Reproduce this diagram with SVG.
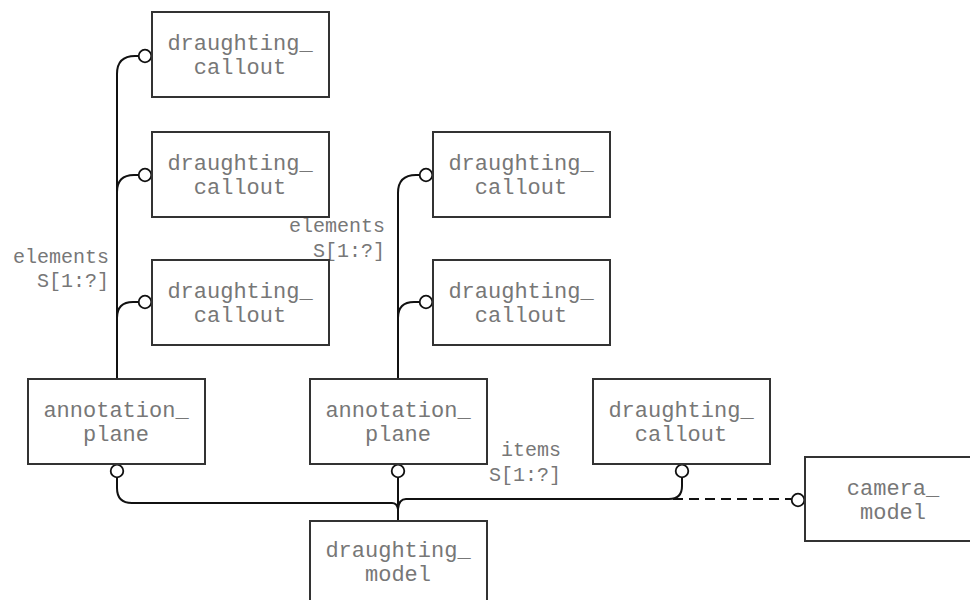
<svg xmlns="http://www.w3.org/2000/svg" width="970" height="600" viewBox="0 0 970 600">
<style>
.box{fill:#fff;stroke:#333;stroke-width:2}
.t{font-family:"Liberation Mono","Courier New",monospace;font-size:22px;fill:#777;text-anchor:middle}
.lbl{font-family:"Liberation Mono","Courier New",monospace;font-size:20px;fill:#777;text-anchor:end}
.ln{fill:none;stroke:#111;stroke-width:2}
.dash{fill:none;stroke:#111;stroke-width:2;stroke-dasharray:10,6}
.c{fill:#fff;stroke:#111;stroke-width:1.8}
</style>
<rect width="970" height="600" fill="#fff"/>
<g id="connectors">
<path class="ln" d="M117,379 V74 Q117,56 135,56 H139"/>
<path class="ln" d="M117,192 Q117,175 134,175 H139"/>
<path class="ln" d="M117,318 Q117,302 133,302 H139"/>
<path class="ln" d="M398,379 V193 Q398,175 416,175 H420"/>
<path class="ln" d="M398,318 Q398,302 414,302 H420"/>
<path class="ln" d="M117,477 V488 Q117,503 132,503 H392 Q397,503 398,509"/>
<path class="ln" d="M398,477 V521"/>
<path class="ln" d="M682,477 V486 Q682,499 669,499 H406 Q399,499 398,509"/>
<path class="dash" d="M673,499 H792"/>
<circle class="c" cx="145" cy="56" r="6.3"/>
<circle class="c" cx="145" cy="175" r="6.3"/>
<circle class="c" cx="145" cy="302" r="6.3"/>
<circle class="c" cx="426" cy="175" r="6.3"/>
<circle class="c" cx="426" cy="302" r="6.3"/>
<circle class="c" cx="117" cy="471" r="6.3"/>
<circle class="c" cx="398" cy="471" r="6.3"/>
<circle class="c" cx="682" cy="471" r="6.3"/>
<circle class="c" cx="798" cy="500" r="6.3"/>
</g>
<g id="labels">
<text class="lbl" x="109" y="263">elements</text>
<text class="lbl" x="109" y="287">S[1:?]</text>
<text class="lbl" x="385" y="232">elements</text>
<text class="lbl" x="385" y="257">S[1:?]</text>
<text class="lbl" x="561" y="456">items</text>
<text class="lbl" x="561" y="481">S[1:?]</text>
</g>
<g id="dc1"><rect class="box" x="152" y="12" width="177" height="85"/><text class="t" x="240" y="50">draughting_</text><text class="t" x="240" y="74">callout</text></g>
<g id="dc2"><rect class="box" x="152" y="132" width="177" height="85"/><text class="t" x="240" y="170">draughting_</text><text class="t" x="240" y="194">callout</text></g>
<g id="dc3"><rect class="box" x="152" y="260" width="177" height="85"/><text class="t" x="240" y="298">draughting_</text><text class="t" x="240" y="322">callout</text></g>
<g id="dc4"><rect class="box" x="433" y="132" width="177" height="85"/><text class="t" x="521" y="170">draughting_</text><text class="t" x="521" y="194">callout</text></g>
<g id="dc5"><rect class="box" x="433" y="260" width="177" height="85"/><text class="t" x="521" y="298">draughting_</text><text class="t" x="521" y="322">callout</text></g>
<g id="ap1"><rect class="box" x="28" y="379" width="177" height="85"/><text class="t" x="116" y="417">annotation_</text><text class="t" x="116" y="441">plane</text></g>
<g id="ap2"><rect class="box" x="310" y="379" width="177" height="85"/><text class="t" x="398" y="417">annotation_</text><text class="t" x="398" y="441">plane</text></g>
<g id="dc6"><rect class="box" x="593" y="379" width="177" height="85"/><text class="t" x="681" y="417">draughting_</text><text class="t" x="681" y="441">callout</text></g>
<g id="dm"><rect class="box" x="310" y="521" width="177" height="90"/><text class="t" x="398" y="557">draughting_</text><text class="t" x="398" y="581">model</text></g>
<g id="cm"><rect class="box" x="805" y="457" width="180" height="84"/><text class="t" x="893" y="495">camera_</text><text class="t" x="893" y="519">model</text></g>
</svg>
